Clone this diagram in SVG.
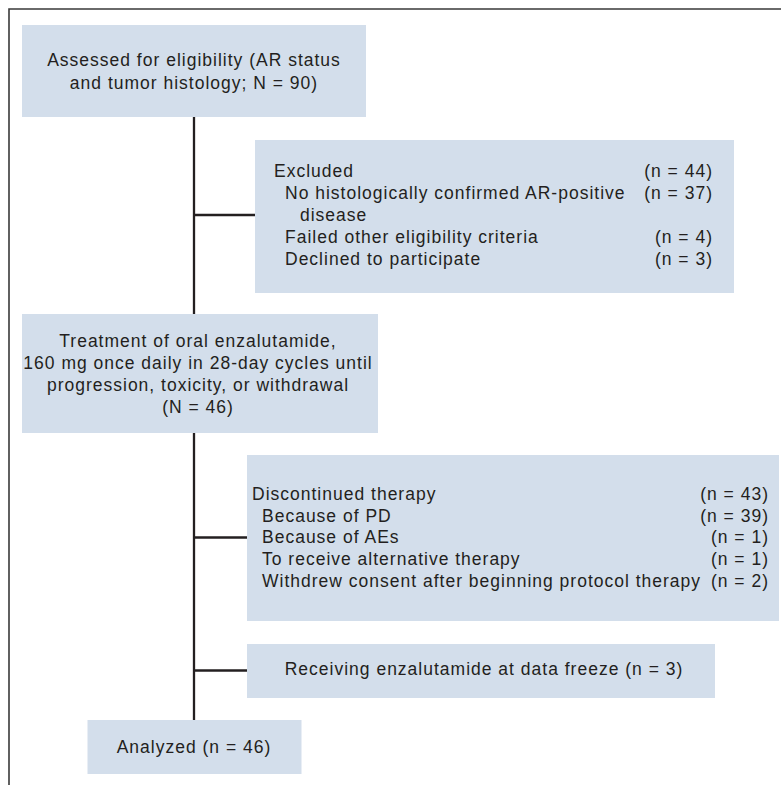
<svg xmlns="http://www.w3.org/2000/svg" width="781" height="785" viewBox="0 0 781 785">
  <style>
    .box { fill: #d3deeb; }
    .t { font-family: "Liberation Sans", Arial, sans-serif; font-size: 17.5px; fill: #231f20; letter-spacing: 1px; }
    .c { text-anchor: middle; }
    .r { text-anchor: end; }
    .ln { stroke: #231f20; stroke-width: 2.3; fill: none; }
    .frame { stroke: #3a3a3a; stroke-width: 1.6; fill: none; }
  </style>
  <rect x="0" y="0" width="781" height="785" fill="#ffffff"/>
  <path class="frame" d="M9,785 V9 H781"/>

  <g id="connectors">
    <line class="ln" x1="194" y1="117" x2="194" y2="720"/>
    <line class="ln" x1="194" y1="215" x2="255" y2="215"/>
    <line class="ln" x1="194" y1="537.5" x2="247" y2="537.5"/>
    <line class="ln" x1="194" y1="670.5" x2="247" y2="670.5"/>
  </g>

  <g id="assessed">
    <rect class="box" x="22" y="25" width="344" height="92"/>
    <text class="t c" x="194" y="65.5">Assessed for eligibility (AR status</text>
    <text class="t c" x="194" y="88.5">and tumor histology; N = 90)</text>
  </g>

  <g id="excluded">
    <rect class="box" x="255" y="140" width="479" height="153"/>
    <text class="t" x="274" y="176.7">Excluded</text>
    <text class="t r" x="713" y="176.7">(n = 44)</text>
    <text class="t" x="285" y="198.5">No histologically confirmed AR-positive</text>
    <text class="t r" x="713" y="198.5">(n = 37)</text>
    <text class="t" x="300" y="220.7">disease</text>
    <text class="t" x="285" y="243">Failed other eligibility criteria</text>
    <text class="t r" x="713" y="243">(n = 4)</text>
    <text class="t" x="285" y="265">Declined to participate</text>
    <text class="t r" x="713" y="265">(n = 3)</text>
  </g>

  <g id="treatment">
    <rect class="box" x="22" y="314" width="356" height="119"/>
    <text class="t c" x="198" y="346.5">Treatment of oral enzalutamide,</text>
    <text class="t c" x="198" y="368.5">160 mg once daily in 28-day cycles until</text>
    <text class="t c" x="198" y="390.5">progression, toxicity, or withdrawal</text>
    <text class="t c" x="198" y="412.5">(N = 46)</text>
  </g>

  <g id="discontinued">
    <rect class="box" x="247" y="455" width="532" height="166"/>
    <text class="t" x="252" y="499.5">Discontinued therapy</text>
    <text class="t r" x="769" y="499.5">(n = 43)</text>
    <text class="t" x="262" y="521.5">Because of PD</text>
    <text class="t r" x="769" y="521.5">(n = 39)</text>
    <text class="t" x="262" y="543.3">Because of AEs</text>
    <text class="t r" x="769" y="543.3">(n = 1)</text>
    <text class="t" x="262" y="565">To receive alternative therapy</text>
    <text class="t r" x="769" y="565">(n = 1)</text>
    <text class="t" x="262" y="586.7">Withdrew consent after beginning protocol therapy</text>
    <text class="t r" x="769" y="586.7">(n = 2)</text>
  </g>

  <g id="receiving">
    <rect class="box" x="247" y="644" width="468" height="54"/>
    <text class="t c" x="484" y="675">Receiving enzalutamide at data freeze (n = 3)</text>
  </g>

  <g id="analyzed">
    <rect class="box" x="87.5" y="720" width="214" height="54"/>
    <text class="t c" x="194" y="753.3">Analyzed (n = 46)</text>
  </g>
</svg>
